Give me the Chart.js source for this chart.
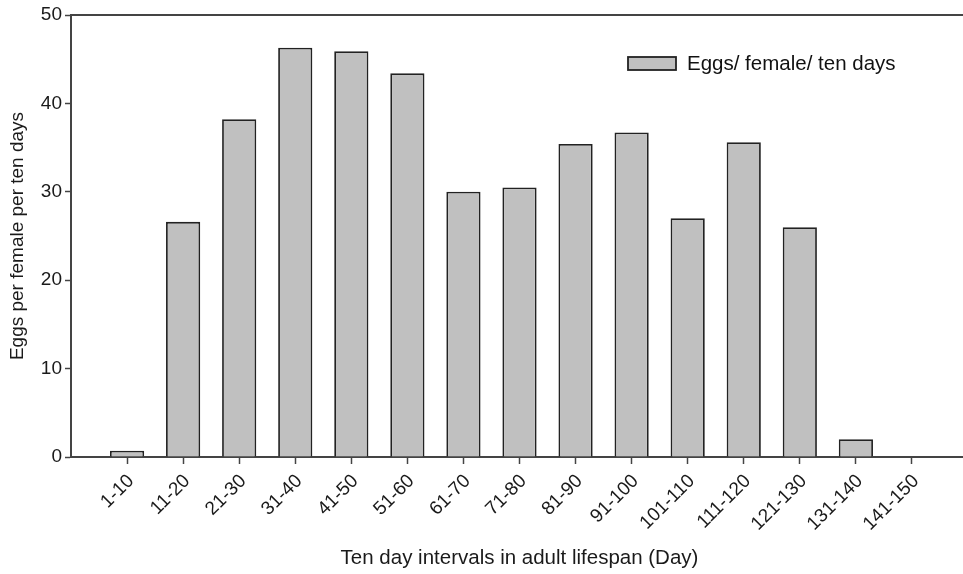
<!DOCTYPE html>
<html>
<head>
<meta charset="utf-8">
<script src="https://cdn.jsdelivr.net/npm/chart.js@4.4.0/dist/chart.umd.min.js"></script>
<style>
  html, body { margin: 0; padding: 0; background: #fff; overflow: hidden; }
  #wrap { width: 980px; height: 574px; }
</style>
</head>
<body>
<div id="wrap"><canvas id="myChart" width="980" height="574"></canvas></div>
<script>
// data
const intervals = ['1-10', '11-20', '21-30', '31-40', '41-50', '51-60', '61-70', '71-80',
    '81-90', '91-100', '101-110', '111-120', '121-130', '131-140', '141-150'];
const eggs = [0.7, 26.6, 38.2, 46.3, 45.9, 43.4, 30.0, 30.5, 35.4, 36.7, 27.0, 35.6, 26.0, 2.0, 0];
const yTicks = [0, 10, 20, 30, 40, 50];

// empty slot on each side so the axis runs from 0 to 16
const labels = [''].concat(intervals, ['']);
const values = [null].concat(eggs, [null]);

const FONT = 'Liberation Sans, Arial, Helvetica, sans-serif';
const AXIS = '#444';

const frameAndLegend = {
    id: 'frameAndLegend',
    afterDraw(chart) {
        const ctx = chart.ctx;
        const area = chart.chartArea;
        const ds = chart.data.datasets[0];
        ctx.save();
        // top frame line
        ctx.strokeStyle = AXIS;
        ctx.lineWidth = 2;
        ctx.beginPath();
        ctx.moveTo(area.left, area.top);
        ctx.lineTo(chart.width, area.top);
        ctx.stroke();
        // legend
        ctx.fillStyle = ds.backgroundColor;
        ctx.fillRect(628, 57, 48, 13);
        ctx.strokeStyle = ds.borderColor;
        ctx.lineWidth = 1.8;
        ctx.strokeRect(628, 57, 48, 13);
        ctx.fillStyle = '#111';
        ctx.font = '20.5px ' + FONT;
        ctx.textBaseline = 'middle';
        ctx.textAlign = 'left';
        ctx.fillText(ds.label, 687, 64);
        ctx.restore();
    }
};

const ctx = document.getElementById('myChart');

new Chart(ctx, {
    type: 'bar',
    data: {
        labels: labels,
        datasets: [{
            label: 'Eggs/ female/ ten days',
            data: values,
            backgroundColor: '#c0c0c0',
            borderColor: '#222',
            borderWidth: 1.8,
            categoryPercentage: 1,
            barPercentage: 0.61
        }]
    },
    options: {
        responsive: false,
        animation: false,
        layout: { padding: { top: 15, right: 12, left: 0, bottom: 0 } },
        plugins: {
            legend: { display: false },
            tooltip: { enabled: false }
        },
        scales: {
            x: {
                offset: false,
                grid: {
                    offset: false,
                    drawOnChartArea: false,
                    tickLength: 7,
                    tickWidth: 1.5,
                    tickColor: c => (c.index === 0 || c.index === labels.length - 1) ? 'rgba(0,0,0,0)' : AXIS
                },
                border: { color: AXIS, width: 2 },
                ticks: {
                    autoSkip: false,
                    minRotation: 45,
                    maxRotation: 45,
                    padding: 6,
                    labelOffset: 4,
                    color: '#1a1a1a',
                    font: { family: FONT, size: 19 }
                },
                title: {
                    display: true,
                    text: 'Ten day intervals in adult lifespan (Day)',
                    color: '#1a1a1a',
                    font: { family: FONT, size: 20.5 },
                    padding: { top: 0, bottom: 3 }
                },
                afterFit: s => {
                    s.height = 117;
                    s.paddingLeft = 0;
                    s.paddingRight = 0;
                }
            },
            y: {
                min: 0,
                max: 50,
                afterBuildTicks: s => { s.ticks = yTicks.map(v => ({ value: v })); },
                grid: {
                    drawOnChartArea: false,
                    tickLength: 6,
                    tickWidth: 1.5,
                    tickColor: AXIS
                },
                border: { color: AXIS, width: 2 },
                ticks: {
                    padding: 3,
                    color: '#1a1a1a',
                    font: { family: FONT, size: 19 }
                },
                title: {
                    display: true,
                    text: 'Eggs per female per ten days',
                    color: '#1a1a1a',
                    font: { family: FONT, size: 19 },
                    padding: { top: 6, bottom: 0 }
                },
                afterFit: s => {
                    s.width = 71;
                    s.paddingTop = 0;
                    s.paddingBottom = 0;
                }
            }
        }
    },
    plugins: [frameAndLegend]
});
</script>
</body>
</html>
